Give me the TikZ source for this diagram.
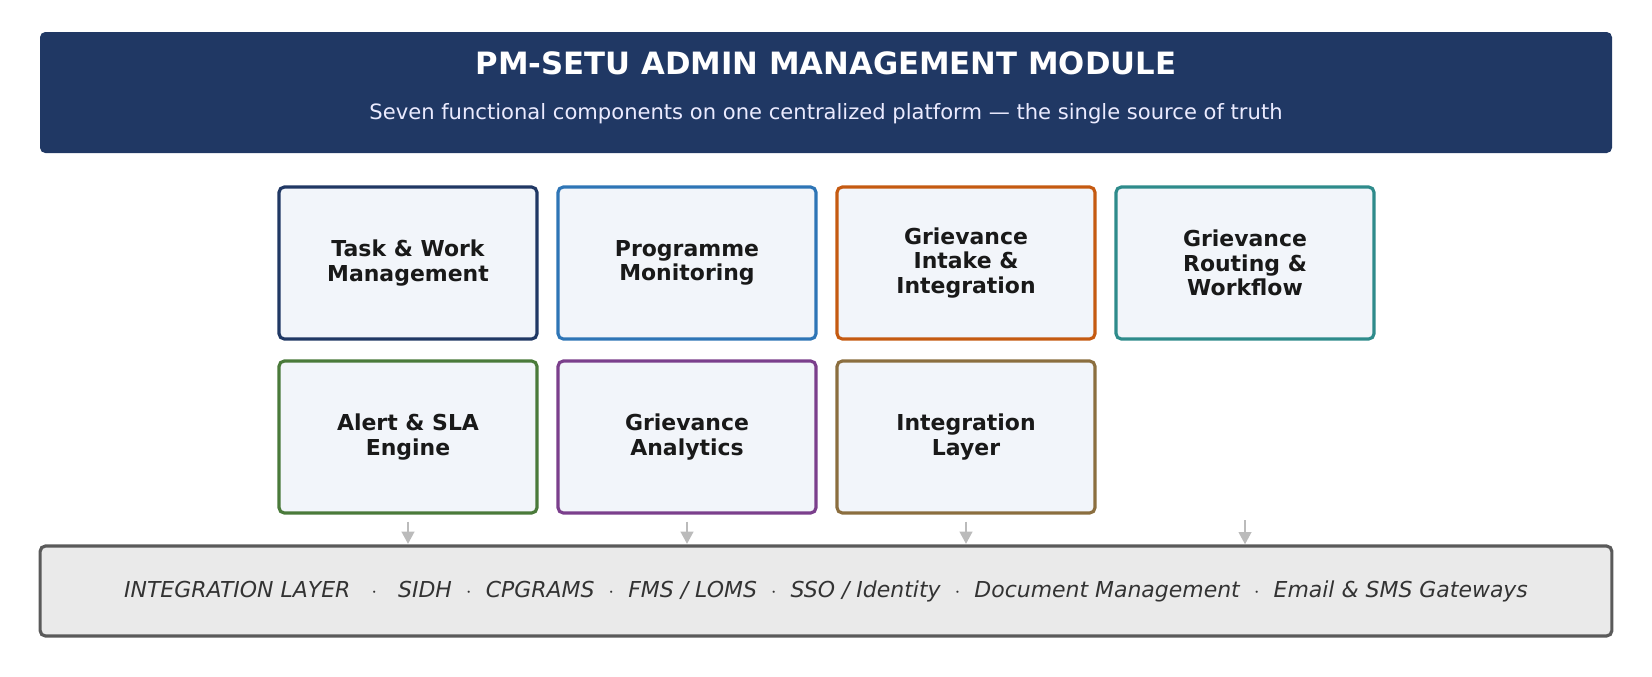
\documentclass[tikz,border=0pt]{standalone}
\usepackage{fontspec}
\setmainfont{DejaVu Sans}
\usetikzlibrary{positioning, arrows.meta}
\definecolor{navy}{HTML}{203864}
\definecolor{boxfill}{HTML}{F2F5FA}
\definecolor{cBlue}{HTML}{2E75B6}
\definecolor{cOrange}{HTML}{C55A11}
\definecolor{cTeal}{HTML}{2E8B8B}
\definecolor{cGreen}{HTML}{4A7A3A}
\definecolor{cPurple}{HTML}{7B3F8C}
\definecolor{cBrown}{HTML}{8B6E3F}
\definecolor{barfill}{HTML}{EAEAEA}
\definecolor{bardraw}{HTML}{5A5A5A}
\definecolor{arrowgray}{HTML}{BBBBBB}

\begin{document}
\begin{tikzpicture}[x=0.02cm, y=-0.02cm,
	  comp/.style={draw, line width=1.8pt, rounded corners=3pt, fill=boxfill,
	    minimum width=5.16cm, minimum height=3.04cm, align=center,
	    font=\fontsize{12.5}{14}\selectfont\bfseries, text=black!90},
	  link/.style={-{Triangle[width=7pt,length=7pt]}, arrowgray, line width=1.6pt}]

		\useasboundingbox (0,0) rectangle (1652,676);

		% header
		\fill[navy, rounded corners=3pt] (40,32) rectangle (1612,153);
		\node[text=white, font=\fontsize{17.5}{20}\selectfont\bfseries] (title) at (826,63) {PM-SETU ADMIN MANAGEMENT MODULE};
		\node[text=blue!8, font=\fontsize{12}{14}\selectfont] (subtitle) at (826,114) {Seven functional components on one centralized platform — the single source of truth};

		% components
		\node[comp, draw=navy] (task) at (408,263) {Task \& Work\\Management};
		\node[comp, draw=cBlue] (prog) at (687,263) {Programme\\Monitoring};
		\node[comp, draw=cOrange] (intake) at (966,263) {Grievance\\Intake \&\\Integration};
		\node[comp, draw=cTeal] (routing) at (1245,263) {Grievance\\Routing \&\\Workflow};
		\node[comp, draw=cGreen] (alert) at (408,437) {Alert \& SLA\\Engine};
		\node[comp, draw=cPurple] (analytics) at (687,437) {Grievance\\Analytics};
		\node[comp, draw=cBrown] (integ) at (966,437) {Integration\\Layer};

		% integration bar
		\node[draw=bardraw, fill=barfill, line width=1.8pt, rounded corners=3pt,
		  minimum width=31.44cm, minimum height=1.8cm,
		  font=\fontsize{12.5}{14}\selectfont\itshape, text=black!80] (bar) at (826,591)
		  {INTEGRATION LAYER \ \ $\cdot$ \ \ SIDH \ $\cdot$ \ CPGRAMS \ $\cdot$ \ FMS / LOMS \ $\cdot$ \ SSO / Identity \ $\cdot$ \ Document Management \ $\cdot$ \ Email \& SMS Gateways};

		\coordinate (r1) at (1245,520);
		\draw[link] (alert.south) ++(0,7) -- (408,544);
		\draw[link] (analytics.south) ++(0,7) -- (687,544);
		\draw[link] (integ.south) ++(0,7) -- (966,544);
		\draw[link] (r1) -- (r1 |- bar.north);

\end{tikzpicture}
\end{document}
